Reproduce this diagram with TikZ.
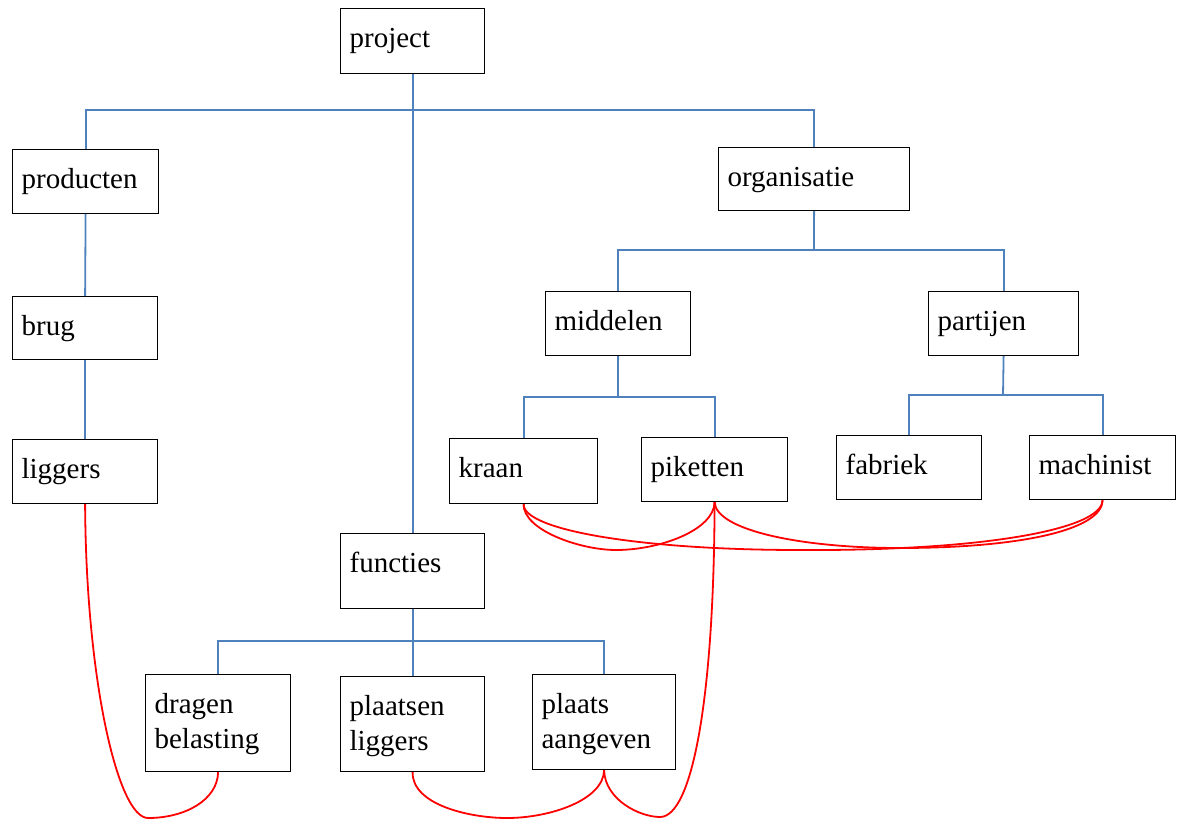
\documentclass[tikz,border=0pt]{standalone}
\usepackage{fontspec}
\setmainfont{Liberation Serif}
\definecolor{tblue}{HTML}{4F81BD}
\begin{document}
\begin{tikzpicture}[x=1pt,y=-1pt,
  box/.style={draw, line width=1.2pt, anchor=north west, inner xsep=9pt, inner ysep=5pt,
    align=left, text height=34pt, font=\fontsize{29}{35}\selectfont},
  tree/.style={draw=tblue, line width=1.8pt},
  rel/.style={draw=red, line width=1.8pt}]
\useasboundingbox (0,0) rectangle (1182,821);
% nodes
\node[box, text width=126pt, text depth=21pt] (project) at (340,8) {project};
\node[box, text width=128pt, text depth=20pt] (producten) at (12,149) {producten};
\node[box, text width=127pt, text depth=19pt] (brug) at (12,296) {brug};
\node[box, text width=127pt, text depth=20pt] (liggers) at (12,439) {liggers};
\node[box, text width=173pt, text depth=19pt] (organisatie) at (718,147) {organisatie};
\node[box, text width=127pt, text depth=20pt] (middelen) at (545,291) {middelen};
\node[box, text width=132pt, text depth=20pt] (partijen) at (928,291) {partijen};
\node[box, text width=130pt, text depth=21pt] (kraan) at (449,438) {kraan};
\node[box, text width=128pt, text depth=20pt] (piketten) at (641,437) {piketten};
\node[box, text width=127pt, text depth=20pt] (fabriek) at (836,435) {fabriek};
\node[box, text width=128pt, text depth=20pt] (machinist) at (1029,435) {machinist};
\node[box, text width=126pt, text depth=31pt] (functies) at (340,533) {functies};
\node[box, text width=127pt, text depth=53pt] (dragen) at (145,674) {dragen\\belasting};
\node[box, text width=126pt, text depth=51pt] (plaatsen) at (340,676) {plaatsen\\liggers};
\node[box, text width=125pt, text depth=51pt] (plaats) at (532,674) {plaats\\aangeven};
% junctions
\coordinate (j1) at (412,110);
\coordinate (j2) at (814,250);
\coordinate (j3) at (618,397);
\coordinate (j4) at (1003,395);
\coordinate (j5) at (412,641);
% tree connectors
\draw[tree] (project.south) -- (functies.north);
\draw[tree] (j1) -| (producten.north);
\draw[tree] (j1) -| (organisatie.north);
\draw[tree] (producten.south) -- (brug.north);
\draw[tree] (brug.south) -- (liggers.north);
\draw[tree] (organisatie.south) -- (j2);
\draw[tree] (j2) -| (middelen.north);
\draw[tree] (j2) -| (partijen.north);
\draw[tree] (middelen.south) -- (j3);
\draw[tree] (j3) -| (kraan.north);
\draw[tree] (j3) -| (piketten.north);
\draw[tree] (partijen.south) -- (j4);
\draw[tree] (j4) -| (fabriek.north);
\draw[tree] (j4) -| (machinist.north);
\draw[tree] (functies.south) -- (plaatsen.north);
\draw[tree] (j5) -| (dragen.north);
\draw[tree] (j5) -| (plaats.north);
% red relations
\draw[rel] (liggers.south) .. controls (86,680) and (118,818) .. (148,818)
  .. controls (185,818) and (217.5,800) .. (dragen.south);
\draw[rel] (plaatsen.south) .. controls (412,805) and (470,818) .. (507,818)
  .. controls (550,818) and (603.5,800) .. (plaats.south);
\draw[rel] (plaats.south) .. controls (605,800) and (640,817) .. (660,817)
  .. controls (692,817) and (714,700) .. (piketten.south);
\draw[rel] (kraan.south) .. controls (523,530) and (580,550) .. (616,550)
  .. controls (660,550) and (714,530) .. (piketten.south);
\draw[rel] (kraan.south) .. controls (523,530) and (640,550) .. (800,550)
  .. controls (980,551) and (1102,530) .. (machinist.south);
\draw[rel] (piketten.south) .. controls (716,530) and (800,548) .. (900,548)
  .. controls (1020,548) and (1102,530) .. (machinist.south);
\end{tikzpicture}
\end{document}
